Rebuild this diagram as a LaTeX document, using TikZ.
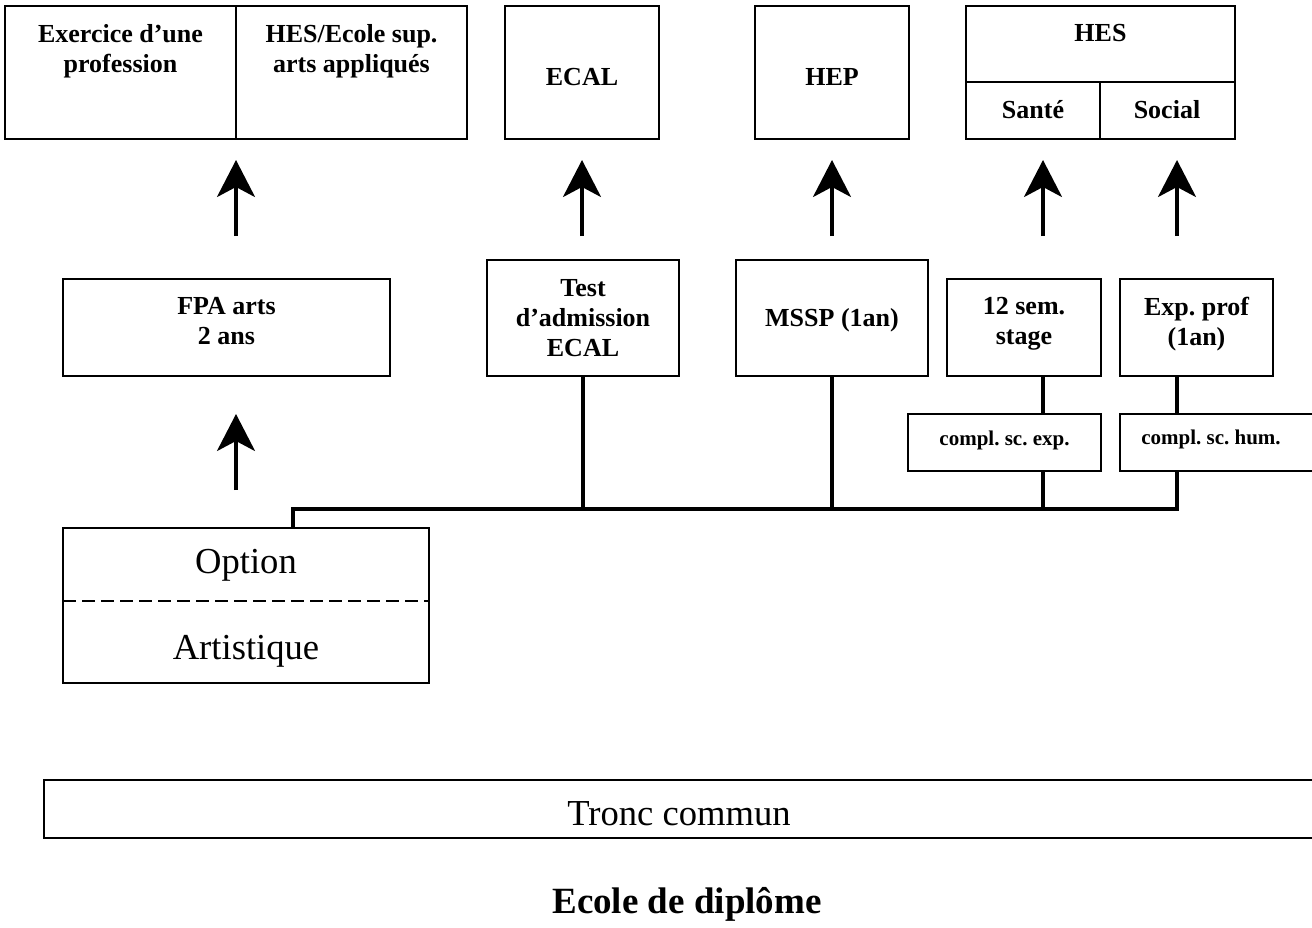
\documentclass[tikz,border=0pt]{standalone}
\usepackage{fontspec}
\setmainfont{Liberation Serif}
\usetikzlibrary{arrows.meta}
\frenchspacing
\begin{document}
\frenchspacing
\begin{tikzpicture}[x=0.5pt,y=-0.5pt,
  box/.style={draw, line width=0.9pt, inner sep=0pt, outer sep=0pt},
  lbl/.style={inner sep=0pt, font=\bfseries\fontsize{13}{15}\selectfont, align=center},
  small/.style={inner sep=0pt, font=\bfseries\fontsize{10.5}{12}\selectfont},
  big/.style={inner sep=0pt, font=\fontsize{18.3}{22}\selectfont},
  arr/.style={line width=1.6pt, -{Stealth[length=18.5pt,width=19pt,inset=5pt]}},
  conn/.style={line width=1.6pt},
  bus/.style={line width=2pt, line join=miter},
]
\useasboundingbox (0,0) rectangle (1312,927);

% boxes
\node[box, minimum width=231pt, minimum height=66.5pt] (box1) at (236,72.5) {};
\node[box, minimum width=77pt, minimum height=66.5pt] (ecal) at (582,72.5) {};
\node[box, minimum width=77pt, minimum height=66.5pt] (hep) at (832,72.5) {};
\node[box, minimum width=134.5pt, minimum height=66.5pt] (hes) at (1100.5,72.5) {};
\node[box, minimum width=163.5pt, minimum height=48.5pt] (fpa) at (226.5,327.5) {};
\node[box, minimum width=96pt, minimum height=58pt] (test) at (583,318) {};
\node[box, minimum width=96pt, minimum height=58pt] (mssp) at (832,318) {};
\node[box, minimum width=77pt, minimum height=48.5pt] (sem) at (1024,327.5) {};
\node[box, minimum width=76.5pt, minimum height=48.5pt] (exp) at (1196.5,327.5) {};
\node[box, minimum width=96.5pt, minimum height=28.5pt] (cse) at (1004.5,442.5) {};
\node[box, minimum width=96.5pt, minimum height=28.5pt] (csh) at (1216.5,442.5) {};
\node[box, minimum width=183pt, minimum height=77.5pt] (opt) at (246,605.5) {};
\node[box, minimum width=635.5pt, minimum height=29pt] (tronc) at (679.5,809) {};

% dividers
\draw[line width=0.9pt] (box1.north) -- (box1.south);
\coordinate (hy) at (1100,82);
\draw[line width=0.9pt] (hes.west |- hy) -- (hes.east |- hy);
\draw[line width=0.9pt] (hy) -- (hy |- hes.south);
\coordinate (dy) at (246,601);
\draw[line width=0.9pt, dash pattern=on 6.5pt off 3pt] (opt.west |- dy) -- (opt.east |- dy);

% texts
\node[lbl, anchor=north] (t1a) at (120.5,24) {Exercice d’une\\profession};
\node[lbl, anchor=north] (t1b) at (351.5,24) {HES/Ecole sup.\\arts appliqués};
\node[lbl, anchor=base] (tecal) at (582,85) {ECAL};
\node[lbl, anchor=base] (thep) at (832,85) {HEP};
\node[lbl, anchor=base] (thes) at (1100.5,41.7) {HES};
\node[lbl, anchor=base] (tsante) at (1033,118) {Santé};
\node[lbl, anchor=base] (tsocial) at (1167,118) {Social};
\node[lbl, anchor=north] (tfpa) at (226.5,297) {FPA arts\\2 ans};
\node[lbl, anchor=north] (ttest) at (583,279) {Test\\d’admission\\ECAL};
\node[lbl, anchor=base] (tmssp) at (832,326) {MSSP (1an)};
\node[lbl, anchor=north] (tsem) at (1024,297) {12 sem.\\stage};
\node[lbl, anchor=north] (texp) at (1196.5,297) {Exp. prof\\(1an)};
\node[small, anchor=base] (tcse) at (1004.5,445) {compl. sc. exp.};
\node[small, anchor=base] (tcsh) at (1211,444) {compl. sc. hum.};
\node[big, anchor=base] (topt) at (246,573) {Option};
\node[big, anchor=base] (tart) at (246,659) {Artistique};
\node[big, anchor=base] (ttronc) at (679,825) {Tronc commun};
\node[inner sep=0pt, font=\bfseries\fontsize{18.5}{22}\selectfont, anchor=base] (title) at (687,913) {Ecole de diplôme};

% arrows
\coordinate (s0) at (236,490);
\coordinate (s1) at (236,236);
\coordinate (s2) at (582,236);
\coordinate (s3) at (832,236);
\coordinate (s4) at (1043,236);
\coordinate (s5) at (1177,236);
\draw[arr, shorten >=19pt] (s0) -- (s0 |- fpa.south);
\draw[arr, shorten >=10.5pt] (s1) -- (s1 |- box1.south);
\draw[arr, shorten >=10.5pt] (s2) -- (s2 |- ecal.south);
\draw[arr, shorten >=10.5pt] (s3) -- (s3 |- hep.south);
\draw[arr, shorten >=10.5pt] (s4) -- (s4 |- hes.south);
\draw[arr, shorten >=10.5pt] (s5) -- (s5 |- hes.south);

% connectors and bus
\coordinate (bx) at (293,509);
\coordinate (be) at (1177,509);
\coordinate (sx) at (1043,509);
\draw[bus] (opt.north -| bx) -- (bx) -- (be) -- (csh.south -| be);
\draw[conn] (test.south) -- (test.south |- bx);
\draw[conn] (mssp.south) -- (mssp.south |- bx);
\draw[conn] (sem.south -| sx) -- (cse.north -| sx);
\draw[conn] (cse.south -| sx) -- (sx);
\draw[conn] (exp.south -| be) -- (csh.north -| be);
\end{tikzpicture}
\end{document}
